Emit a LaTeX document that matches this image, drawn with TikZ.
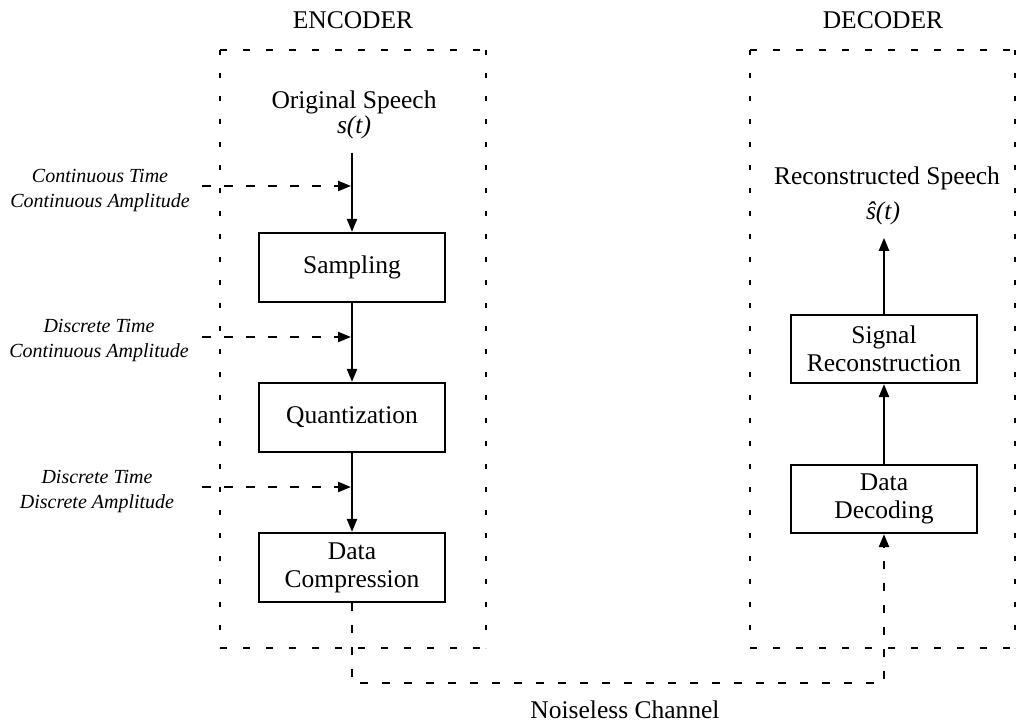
\documentclass[tikz,border=0pt]{standalone}
\usepackage{fontspec}
\setmainfont{Liberation Serif}
\usetikzlibrary{arrows.meta}

\begin{document}
\begin{tikzpicture}[x=1pt,y=-1pt,
  box/.style={draw, line width=2.2pt, minimum width=186pt, minimum height=69pt,
    align=center, inner sep=0pt, font=\fontsize{25.5}{28}\selectfont},
  txt/.style={font=\fontsize{25.5}{28}\selectfont, inner sep=0pt},
  note/.style={font=\fontsize{20}{25}\selectfont\itshape, align=center, inner sep=0pt},
  flow/.style={line width=2.2pt, -{Triangle[length=13pt,width=10pt]}},
  feed/.style={line width=2.2pt, dash pattern=on 9pt off 13pt,
    -{Triangle[length=13pt,width=10pt]}},
  chan/.style={line width=2.4pt, dash pattern=on 8pt off 14pt,
    -{Triangle[length=13pt,width=10pt]}},
  frameh/.style={line width=2.4pt, dash pattern=on 7pt off 16pt},
  framev/.style={line width=2.8pt, dash pattern=on 5pt off 18pt},
]
\useasboundingbox (0,0) rectangle (1017,724);

% headings
\node[txt] (enc) at (353,20) {ENCODER};
\node[txt] (dec) at (883,20) {DECODER};

% dashed frames around encoder and decoder
\draw[frameh] (220,50) -- (486,50);
\draw[frameh] (220,648) -- (486,648);
\draw[framev] (220,50) -- (220,648);
\draw[framev] (486,50) -- (486,648);
\draw[frameh] (750,50) -- (1015,50);
\draw[frameh] (750,648) -- (1015,648);
\draw[framev] (750,50) -- (750,648);
\draw[framev] (1015,50) -- (1015,648);

% encoder chain
\node[txt] (orig) at (354,102) {Original Speech};
\node[txt] (st) at (354,127) {\textit{s(t)}};
\node[box] (samp) at (352,267.5) {Sampling};
\node[box] (quant) at (352,417.5) {Quantization};
\node[box] (comp) at (352,567.5) {Data\\Compression};

\draw[flow, shorten <=14pt] (st.south -| samp.north) -- (samp.north);
\draw[flow] (samp.south) -- (quant.north);
\draw[flow] (quant.south) -- (comp.north);

% signal descriptions feeding the chain
\node[note] (n1) at (100,190.5) {Continuous Time\\Continuous Amplitude};
\node[note] (n2) at (99,340.5) {Discrete Time\\Continuous Amplitude};
\node[note] (n3) at (97,491.5) {Discrete Time\\Discrete Amplitude};
\coordinate (f1) at (202,186);
\coordinate (f2) at (202,337);
\coordinate (f3) at (202,487);
\draw[feed, shorten >=1pt] (f1) -- (f1 -| samp.north);
\draw[feed, shorten >=1pt] (f2) -- (f2 -| quant.north);
\draw[feed, shorten >=1pt] (f3) -- (f3 -| comp.north);

% decoder chain
\node[txt] (recon) at (887,178) {Reconstructed Speech};
\node[txt] (shat) at (883,213) {\textit{\^{s}(t)}};
\node[box, minimum height=68pt] (sigrec) at (884,349) {Signal\\Reconstruction};
\node[box, minimum height=68pt] (dd) at (884,499) {Data\\Decoding};

\draw[flow] (dd.north) -- (sigrec.south);
\draw[flow, shorten >=13pt] (sigrec.north) -- (sigrec.north |- shat.south);

% channel between encoder and decoder
\draw[chan] (comp.south) -- ++(0,80) -| (dd.south);
\node[txt] (noise) at (625,710) {Noiseless Channel};
\end{tikzpicture}
\end{document}
